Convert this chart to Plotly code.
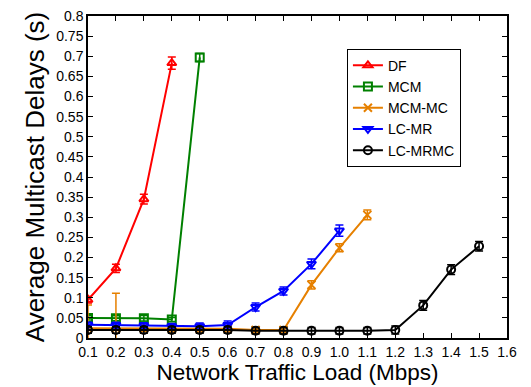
import plotly.graph_objects as go

x_df = [0.1, 0.2, 0.3, 0.4]
y_df = [0.095, 0.173, 0.345, 0.683]
e_df = [0.008, 0.010, 0.012, 0.015]

x_mcm = [0.1, 0.2, 0.3, 0.4, 0.5]
y_mcm = [0.050, 0.049, 0.049, 0.046, 0.697]
e_mcm = [0.005, 0.006, 0.007, 0.005, 0.010]

x_mcmmc = [0.1, 0.2, 0.3, 0.4, 0.5, 0.6, 0.7, 0.8, 0.9, 1.0, 1.1]
y_mcmmc = [0.024, 0.024, 0.024, 0.023, 0.023, 0.023, 0.020, 0.020, 0.132, 0.224, 0.306]
e_mcmmc = [0.058, 0.087, 0.008, 0.008, 0.008, 0.008, 0.008, 0.008, 0.010, 0.010, 0.012]

x_lcmr = [0.1, 0.2, 0.3, 0.4, 0.5, 0.6, 0.7, 0.8, 0.9, 1.0]
y_lcmr = [0.033, 0.032, 0.031, 0.029, 0.029, 0.032, 0.077, 0.117, 0.184, 0.267]
e_lcmr = [0.006, 0.007, 0.007, 0.007, 0.008, 0.010, 0.010, 0.010, 0.012, 0.014]

x_lcmrmc = [0.1, 0.2, 0.3, 0.4, 0.5, 0.6, 0.7, 0.8, 0.9, 1.0, 1.1, 1.2, 1.3, 1.4, 1.5]
y_lcmrmc = [0.020, 0.020, 0.020, 0.020, 0.020, 0.020, 0.018, 0.018, 0.018, 0.018, 0.018, 0.020, 0.081, 0.170, 0.228]
e_lcmrmc = [0.008, 0.008, 0.008, 0.008, 0.008, 0.008, 0.008, 0.008, 0.008, 0.008, 0.008, 0.010, 0.012, 0.012, 0.012]

x_ticks = [0.1, 0.2, 0.3, 0.4, 0.5, 0.6, 0.7, 0.8, 0.9, 1.0, 1.1, 1.2, 1.3, 1.4, 1.5, 1.6]
x_tick_labels = ["0.1", "0.2", "0.3", "0.4", "0.5", "0.6", "0.7", "0.8", "0.9", "1.0",
                 "1.1", "1.2", "1.3", "1.4", "1.5", "1.6"]
y_ticks = [0, 0.05, 0.1, 0.15, 0.2, 0.25, 0.3, 0.35, 0.4, 0.45, 0.5, 0.55, 0.6, 0.65, 0.7, 0.75, 0.8]
y_tick_labels = ["0", "0.05", "0.1", "0.15", "0.2", "0.25", "0.3", "0.35", "0.4", "0.45",
                 "0.5", "0.55", "0.6", "0.65", "0.7", "0.75", "0.8"]

series = [
    ("DF", x_df, y_df, e_df, "#ff0000", "triangle-up-open"),
    ("MCM", x_mcm, y_mcm, e_mcm, "#008000", "square-open"),
    ("MCM-MC", x_mcmmc, y_mcmmc, e_mcmmc, "#e68000", "x-thin-open"),
    ("LC-MR", x_lcmr, y_lcmr, e_lcmr, "#0000ff", "triangle-down-open"),
    ("LC-MRMC", x_lcmrmc, y_lcmrmc, e_lcmrmc, "#000000", "circle-open"),
]

fig = go.Figure()
for name, xs, ys, es, col, sym in series:
    fig.add_trace(go.Scatter(
        x=xs, y=ys, name=name, mode="lines+markers",
        line=dict(color=col, width=2),
        marker=dict(symbol=sym, size=8, color=col, line=dict(color=col, width=2)),
        error_y=dict(type="data", array=es, visible=True, color=col, thickness=1.5, width=4),
    ))

# page body has an 8px margin, so figure is sized/offset to compensate
fig.update_layout(
    width=523, height=379,
    margin=dict(l=80, r=24, t=8, b=49, autoexpand=False),
    paper_bgcolor="white", plot_bgcolor="white",
    font=dict(family="Arial, Liberation Sans, sans-serif", color="black"),
    showlegend=True,
    legend=dict(
        x=0.754, y=0.715, xanchor="center", yanchor="middle",
        bgcolor="white", bordercolor="black", borderwidth=1,
        font=dict(size=14), tracegroupgap=0,
    ),
    xaxis=dict(
        range=[0.1, 1.6], tickvals=x_ticks, ticktext=x_tick_labels,
        ticks="inside", ticklen=5, tickcolor="black",
        showline=True, linecolor="black", linewidth=1.5, mirror="ticks",
        showgrid=False, zeroline=False, automargin=False,
        ticklabeloverflow="allow",
        tickfont=dict(size=14),
        title=dict(text="Network Traffic Load (Mbps)", font=dict(size=22.5), standoff=2),
    ),
    yaxis=dict(
        range=[0, 0.8], tickvals=y_ticks, ticktext=y_tick_labels,
        ticks="inside", ticklen=5, tickcolor="black",
        showline=True, linecolor="black", linewidth=1.5, mirror="ticks",
        showgrid=False, zeroline=False, automargin=False,
        ticklabeloverflow="allow",
        tickfont=dict(size=14),
        title=dict(text="Average Multicast Delays (s)", font=dict(size=26), standoff=4),
    ),
)

fig.write_html("out.html")
